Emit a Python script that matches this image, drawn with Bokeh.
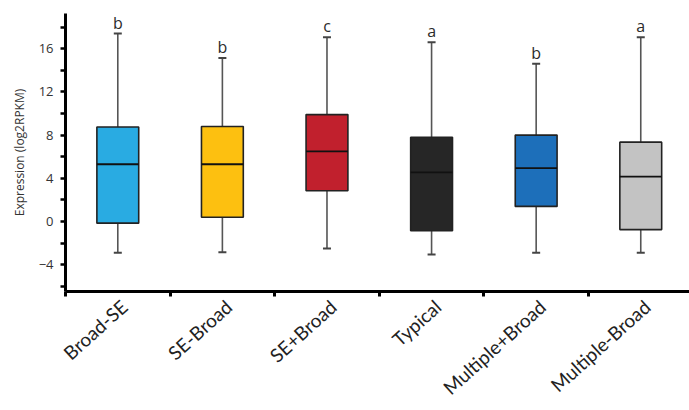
import math
from bokeh.plotting import figure
from bokeh.models import ColumnDataSource, FixedTicker, Range1d
from bokeh.transform import dodge
from bokeh.core.properties import value
from bokeh.embed import file_html
from bokeh.resources import INLINE

# ---- data ----
categories = ["Broad-SE", "SE-Broad", "SE+Broad", "Typical", "Multiple+Broad", "Multiple-Broad"]
whisker_low = [-2.9, -2.85, -2.5, -3.05, -2.9, -2.9]
q1 = [-0.15, 0.4, 2.85, -0.85, 1.4, -0.75]
median = [5.3, 5.3, 6.5, 4.55, 4.95, 4.15]
q3 = [8.75, 8.8, 9.9, 7.8, 8.0, 7.35]
whisker_high = [17.4, 15.15, 17.05, 16.6, 14.6, 17.05]
letters = ["b", "b", "c", "a", "b", "a"]
colors = ["#29ABE2", "#FDC010", "#C1202D", "#262626", "#1D6FBA", "#C3C3C3"]
y_ticks = [-4, 0, 4, 8, 12, 16]
y_minor = [-6, -2, 2, 6, 10, 14, 18]

xpos = [i + 0.5 for i in range(len(categories))]
src = ColumnDataSource(dict(x=xpos, lo=whisker_low, q1=q1, med=median, q3=q3,
                            hi=whisker_high, letter=letters, color=colors))

p = figure(width=689, height=410, output_backend="svg", toolbar_location=None,
           x_range=Range1d(0, 5.966), y_range=Range1d(-6.48, 19.26),
           min_border_left=65, min_border_right=0, min_border_top=13, min_border_bottom=119)
p.outline_line_color = None
p.xgrid.visible = False
p.ygrid.visible = False
p.background_fill_color = "white"

# whiskers
p.segment(x0="x", y0="q3", x1="x", y1="hi", source=src, line_color="#555555", line_width=1.6)
p.segment(x0="x", y0="lo", x1="x", y1="q1", source=src, line_color="#555555", line_width=1.6)
p.scatter(x="x", y="hi", source=src, marker="dash", size=8, line_color="#444444", line_width=2)
p.scatter(x="x", y="lo", source=src, marker="dash", size=8, line_color="#444444", line_width=2)

# boxes
p.vbar(x="x", width=0.4, bottom="q1", top="q3", source=src, fill_color="color",
       line_color="#222222", line_width=1.6)
p.segment(x0=dodge("x", -0.2, range=p.x_range), x1=dodge("x", 0.2, range=p.x_range),
          y0="med", y1="med", source=src, line_color="#111111", line_width=1.8)

# significance letters
p.text(x="x", y="hi", text="letter", source=src, text_align="center",
       text_baseline="alphabetic", y_offset=-11, text_font=value("Open Sans"),
       text_font_size="16px", text_color="#2b2b2b")

# y axis
ya = p.yaxis[0]
ya.ticker = FixedTicker(ticks=y_ticks, minor_ticks=y_minor)
ya.axis_line_width = 3
ya.axis_line_color = "black"
ya.major_tick_out = 5
ya.major_tick_in = 0
ya.minor_tick_out = 5
ya.minor_tick_in = 0
ya.major_tick_line_width = 2.5
ya.minor_tick_line_width = 2.5
ya.major_label_text_font = "Open Sans"
ya.major_label_text_font_size = "13px"
ya.major_label_text_color = "#333333"
ya.major_label_standoff = 7
ya.axis_label = "Expression (log2RPKM)"
ya.axis_label_text_font = "Open Sans"
ya.axis_label_text_font_size = "12px"
ya.axis_label_text_font_style = "normal"
ya.axis_label_text_color = "#333333"
ya.axis_label_standoff = 8

# x axis: labels at category centres, ticks at category boundaries
label_pos = [x + 0.06 for x in xpos]
xa = p.xaxis[0]
xa.ticker = FixedTicker(ticks=label_pos, minor_ticks=list(range(len(categories))))
xa.major_label_overrides = {x: c for x, c in zip(label_pos, categories)}
xa.axis_line_width = 3
xa.axis_line_color = "black"
xa.major_tick_line_color = None
xa.minor_tick_out = 5
xa.minor_tick_in = 0
xa.minor_tick_line_width = 3
xa.major_label_orientation = math.radians(42)
xa.major_label_text_font = "Lato"
xa.major_label_text_font_size = "19px"
xa.major_label_text_color = "#222222"
xa.major_label_standoff = 6

open("out.html", "w").write(file_html(p, INLINE))
